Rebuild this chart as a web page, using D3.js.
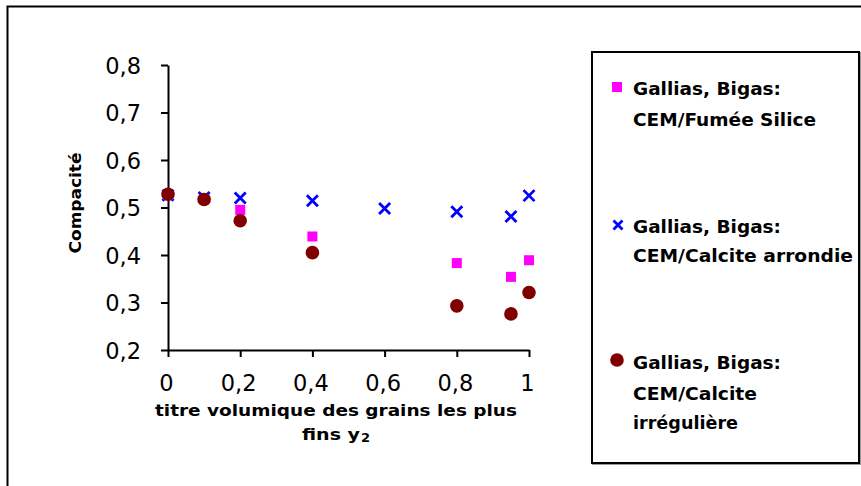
<!DOCTYPE html>
<html>
<head>
<meta charset="utf-8">
<script src="https://cdn.jsdelivr.net/npm/d3@7"></script>
<style>
  html, body { margin: 0; padding: 0; background: #fff; }
  svg { display: block; }
</style>
</head>
<body>
<svg id="chart" width="861" height="486"></svg>
<script>
// ---- data ----
const xTicks = [0, 0.2, 0.4, 0.6, 0.8, 1];
const yTicks = [0.2, 0.3, 0.4, 0.5, 0.6, 0.7, 0.8];

const xFumee = [0, 0.1, 0.2, 0.4, 0.8, 0.95, 1];
const yFumee = [0.527, 0.518, 0.495, 0.439, 0.383, 0.354, 0.389];

const xArrondie = [0, 0.1, 0.2, 0.4, 0.6, 0.8, 0.95, 1];
const yArrondie = [0.526, 0.521, 0.520, 0.514, 0.498, 0.491, 0.481, 0.525];

const xIrreg = [0, 0.1, 0.2, 0.4, 0.8, 0.95, 1];
const yIrreg = [0.528, 0.517, 0.472, 0.405, 0.293, 0.276, 0.321];

const legendLines = [
  ["Gallias, Bigas:", "CEM/Fumée Silice"],
  ["Gallias, Bigas:", "CEM/Calcite arrondie"],
  ["Gallias, Bigas:", "CEM/Calcite", "irrégulière"]
];
const xTitle1 = "titre volumique des grains les plus";
const xTitle2 = "fins y";
const yTitle = "Compacité";

// ---- drawing ----
const svg = d3.select("#chart");
const boldFont = "'DejaVu Sans', sans-serif";
const tickFont = "'DejaVu Sans', sans-serif";

// outer frame
svg.append("rect").attr("x", 7.5).attr("y", 6.5).attr("width", 1000).attr("height", 1000)
  .attr("fill", "none").attr("stroke", "#000").attr("stroke-width", 2);

const x = d3.scaleLinear().domain([0, 1]).range([168, 529]);
const y = d3.scaleLinear().domain([0.2, 0.8]).range([350, 65]);
const fmt = d => d3.format("")(Math.round(d * 10) / 10).replace(".", ",");

const gx = svg.append("g").attr("transform", "translate(0,350)")
  .call(d3.axisBottom(x).tickValues(xTicks).tickSize(7).tickSizeOuter(0).tickPadding(18).tickFormat(fmt));
const gy = svg.append("g").attr("transform", "translate(168,0)")
  .call(d3.axisLeft(y).tickValues(yTicks).tickSize(7).tickSizeOuter(0).tickPadding(20).tickFormat(fmt));

[gx, gy].forEach(g => {
  g.select(".domain").attr("stroke", "#000").attr("stroke-width", 2);
  g.selectAll(".tick line").attr("stroke", "#000").attr("stroke-width", 2);
  g.selectAll(".tick text").attr("fill", "#000").style("font-family", tickFont).style("font-size", "22.5px");
});
gx.selectAll(".tick text").attr("dx", "-2");
gy.selectAll(".tick text").attr("dy", "0.36em");

// axis titles
svg.append("text").attr("x", 336).attr("y", 416).attr("text-anchor", "middle")
  .style("font-family", boldFont).style("font-weight", "bold").style("font-size", "16px")
  .attr("textLength", 362).attr("lengthAdjust", "spacingAndGlyphs").text(xTitle1);
const t2 = svg.append("text").attr("x", 302).attr("y", 440)
  .style("font-family", boldFont).style("font-weight", "bold").style("font-size", "16px");
t2.append("tspan").attr("textLength", 58).attr("lengthAdjust", "spacingAndGlyphs").text(xTitle2);
t2.append("tspan").attr("dy", 2).attr("dx", 1).style("font-size", "13px").text("2");

svg.append("text").attr("transform", "translate(81,203) rotate(-90)").attr("text-anchor", "middle")
  .style("font-family", boldFont).style("font-weight", "bold").style("font-size", "16px")
  .attr("textLength", 101).attr("lengthAdjust", "spacingAndGlyphs").text(yTitle);

// series
const plot = svg.append("g");
const arr = xArrondie.map((v, i) => ({x: v, y: yArrondie[i]}));
const fum = xFumee.map((v, i) => ({x: v, y: yFumee[i]}));
const irr = xIrreg.map((v, i) => ({x: v, y: yIrreg[i]}));

const cross = (sel, s) => sel.attr("d", `M${-s},${-s}L${s},${s}M${-s},${s}L${s},${-s}`)
  .attr("stroke", "#0000FF").attr("stroke-width", 2.8).attr("fill", "none");

plot.selectAll(".arr").data(arr).join("path").attr("class", "arr")
  .attr("transform", d => `translate(${x(d.x)},${y(d.y)})`).call(cross, 5.5);
plot.selectAll(".fum").data(fum).join("rect").attr("class", "fum")
  .attr("x", d => x(d.x) - 5).attr("y", d => y(d.y) - 5).attr("width", 10).attr("height", 10)
  .attr("fill", "#FF00FF");
plot.selectAll(".irr").data(irr).join("circle").attr("class", "irr")
  .attr("cx", d => x(d.x)).attr("cy", d => y(d.y)).attr("r", 6.8).attr("fill", "#800000");

// legend box
svg.append("rect").attr("x", 593).attr("y", 53).attr("width", 267).attr("height", 411)
  .attr("fill", "none").attr("stroke", "#999").attr("stroke-width", 2);
svg.append("rect").attr("x", 592).attr("y", 52).attr("width", 267).attr("height", 411)
  .attr("fill", "#fff").attr("stroke", "#000").attr("stroke-width", 2);

const legY = [87, 225, 360];
const legBase = [[95, 126], [233, 262], [369, 400, 429]];
const legWidths = [[148, 183], [148, 220], [148, 124, 105]];
const lg = svg.append("g");
lg.append("rect").attr("x", 612).attr("y", legY[0] - 5).attr("width", 10).attr("height", 10).attr("fill", "#FF00FF");
lg.append("path").attr("transform", `translate(618,${legY[1]})`).call(cross, 4.5);
lg.append("circle").attr("cx", 617).attr("cy", legY[2]).attr("r", 6.8).attr("fill", "#800000");
legendLines.forEach((lines, i) => {
  lines.forEach((t, j) => {
    lg.append("text").attr("x", 633).attr("y", legBase[i][j])
      .style("font-family", boldFont).style("font-weight", "bold").style("font-size", "17px")
      .attr("textLength", legWidths[i][j]).attr("lengthAdjust", "spacingAndGlyphs")
      .text(t);
  });
});
</script>
</body>
</html>
